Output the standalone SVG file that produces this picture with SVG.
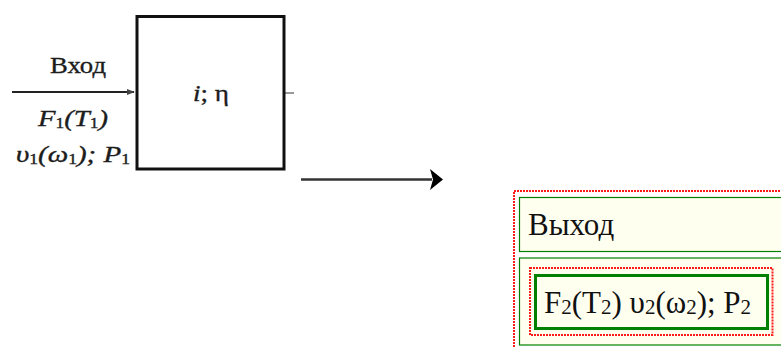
<svg xmlns="http://www.w3.org/2000/svg" width="781" height="347" viewBox="0 0 781 347">
<style>
.scan{font-family:"Liberation Serif","Times New Roman",serif;fill:#1c1c1c;stroke:#1c1c1c;stroke-width:0.35}
.it{font-style:italic}
.s1{font-size:14px;font-style:normal}
.out{font-family:"Liberation Serif","Times New Roman",serif;fill:#111}
.sub{font-size:21px}
.reddot{fill:none;stroke:#ff1a1a;stroke-width:2;stroke-dasharray:2 1}
.greenbox{fill:#fffff0;stroke:#008000}
</style>
<defs>
<marker id="smallHead" viewBox="0 0 10 10" refX="9" refY="5" markerWidth="4" markerHeight="4" orient="auto" markerUnits="strokeWidth">
<path d="M0,1 L10,5 L0,9 Z" fill="#444"/>
</marker>
</defs>
<rect width="781" height="347" fill="#ffffff"/>

<g id="connectors">
<line x1="12" y1="92" x2="134" y2="92" stroke="#222" stroke-width="2" marker-end="url(#smallHead)"/>
<line x1="285" y1="93" x2="294" y2="93" stroke="#777" stroke-width="1.5"/>
<line x1="301" y1="179.5" x2="432" y2="179.5" stroke="#333" stroke-width="2.5"/>
<polygon points="430,169 443,179.5 430,190 433,179.5" fill="#000"/>
</g>

<g id="block">
<rect x="137" y="16.5" width="147" height="152.5" fill="#fff" stroke="#111" stroke-width="3"/>
<text class="scan" x="193" y="101" font-size="23" textLength="36" lengthAdjust="spacingAndGlyphs"><tspan class="it">i</tspan>; η</text>
</g>

<g id="input-labels">
<text class="scan" x="50" y="73" font-size="23" textLength="56" lengthAdjust="spacingAndGlyphs">Вход</text>
<text class="scan it" x="38" y="126" font-size="23" textLength="70" lengthAdjust="spacingAndGlyphs">F<tspan class="s1" dy="2">1</tspan><tspan dy="-2">(T</tspan><tspan class="s1" dy="2">1</tspan><tspan dy="-2">)</tspan></text>
<text class="scan it" x="16" y="162" font-size="23" textLength="114" lengthAdjust="spacingAndGlyphs">υ<tspan class="s1" dy="2">1</tspan><tspan dy="-2">(ω</tspan><tspan class="s1" dy="2">1</tspan><tspan dy="-2">); P</tspan><tspan class="s1" dy="2">1</tspan></text>
</g>

<g id="output-panel">
<rect x="514" y="191" width="280" height="170" fill="#ffffff" class="reddot"/>
<rect x="519.5" y="197.5" width="270" height="54" class="greenbox" stroke-width="1.2"/>
<text class="out" x="528" y="235" font-size="31">Выход</text>
<rect x="519.5" y="258" width="270" height="87" class="greenbox" stroke-width="1.2"/>
<rect x="530" y="268" width="242.5" height="67" class="reddot"/>
<rect x="535.5" y="275.5" width="232" height="53" fill="none" stroke="#008000" stroke-width="3"/>
<text class="out" x="544" y="312.5" font-size="31">F<tspan class="sub" dy="1">2</tspan><tspan dy="-1">(T</tspan><tspan class="sub" dy="1">2</tspan><tspan dy="-1">) υ</tspan><tspan class="sub" dy="1">2</tspan><tspan dy="-1">(ω</tspan><tspan class="sub" dy="1">2</tspan><tspan dy="-1">); P</tspan><tspan class="sub" dy="1">2</tspan></text>
</g>
</svg>
